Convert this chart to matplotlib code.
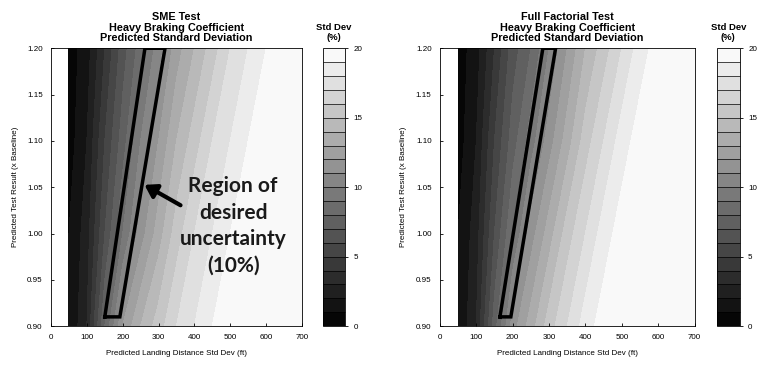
import numpy as np
import matplotlib
matplotlib.use("Agg")
import matplotlib.pyplot as plt

plt.rcParams['font.family'] = ['Liberation Sans', 'DejaVu Sans']

# grid
x_ft = [50, 100, 150, 200, 250, 300, 350, 400, 450, 500, 550, 600, 650, 700]
y_res = [0.90, 1.00, 1.10, 1.20]

sme_std = [
    [1.0, 3.0, 8.0, 12.0, 14.0, 15.5, 17.0, 18.0, 19.0, 19.5, 20.0, 20.0, 20.0, 20.0],
    [1.0, 2.5, 6.0, 9.0, 11.5, 13.5, 15.5, 17.0, 18.0, 19.0, 19.5, 20.0, 20.0, 20.0],
    [0.5, 2.0, 5.0, 7.5, 10.0, 12.0, 14.0, 15.5, 17.0, 18.0, 19.0, 19.5, 20.0, 20.0],
    [0.5, 1.5, 4.0, 6.5, 8.5, 10.5, 12.5, 14.0, 15.5, 17.0, 18.0, 19.0, 19.5, 20.0],
]
ff_std = [
    [1.0, 3.0, 7.5, 11.5, 13.5, 15.5, 17.0, 18.5, 19.5, 20.0, 20.0, 20.0, 20.0, 20.0],
    [1.0, 2.5, 6.0, 9.0, 11.5, 13.5, 15.5, 17.0, 18.5, 19.5, 20.0, 20.0, 20.0, 20.0],
    [0.5, 2.0, 5.0, 7.5, 9.5, 11.5, 13.5, 15.5, 17.0, 18.5, 19.5, 20.0, 20.0, 20.0],
    [0.5, 1.5, 4.0, 6.5, 8.0, 10.0, 12.0, 14.0, 15.5, 17.0, 18.5, 19.5, 20.0, 20.0],
]

# band of desired uncertainty (10%)
band_y = [0.91, 1.20]
sme_band_lo = [150, 262]
sme_band_hi = [192, 318]
ff_band_lo = [165, 283]
ff_band_hi = [195, 318]

titles = ["SME Test\nHeavy Braking Coefficient\nPredicted Standard Deviation",
          "Full Factorial Test\nHeavy Braking Coefficient\nPredicted Standard Deviation"]

fig = plt.figure(figsize=(7.65, 3.74), dpi=100)
ax_pos = [[0.0667, 0.128, 0.328, 0.743], [0.575, 0.128, 0.333, 0.743]]
cb_pos = [[0.422, 0.128, 0.029, 0.743], [0.937, 0.128, 0.030, 0.743]]
levels = np.arange(0, 21, 1)

panels = [(sme_std, sme_band_lo, sme_band_hi), (ff_std, ff_band_lo, ff_band_hi)]
for i, (field, lo, hi) in enumerate(panels):
    ax = fig.add_axes(ax_pos[i])
    cax = fig.add_axes(cb_pos[i])
    X, Y = np.meshgrid(x_ft, y_res)
    Z = np.clip(np.array(field), 0, 19.999)
    cs = ax.contourf(X, Y, Z, levels=levels, cmap='gray', vmin=0, vmax=20)

    # band outline
    bx = [lo[0], lo[1], hi[1], hi[0], lo[0]]
    by = [band_y[0], band_y[1], band_y[1], band_y[0], band_y[0]]
    ax.plot(bx, by, color='black', lw=2.5, solid_joinstyle='miter')

    ax.set_xlim(0, 700)
    ax.set_ylim(0.90, 1.20)
    ax.set_xticks(range(0, 701, 100))
    ax.set_yticks(np.arange(0.90, 1.201, 0.05))
    ax.yaxis.set_major_formatter(matplotlib.ticker.FormatStrFormatter('%.2f'))
    ax.tick_params(labelsize=5.8, length=2, width=0.6, direction='in', pad=6)
    for sp in ax.spines.values():
        sp.set_linewidth(0.6)
    ax.set_xlabel("Predicted Landing Distance Std Dev (ft)", fontsize=5.8, labelpad=6)
    ax.set_ylabel("Predicted Test Result (x Baseline)", fontsize=5.8, labelpad=6)
    ax.set_title(titles[i], fontsize=7.8, fontweight='bold', pad=5, linespacing=1.1)

    cb = fig.colorbar(cs, cax=cax, ticks=[0, 5, 10, 15, 20], drawedges=True)
    cb.outline.set_linewidth(0.6)
    cb.dividers.set_linewidth(0.5)
    cax.tick_params(labelsize=5.8, length=2, width=0.6, pad=4)
    cax.set_title("Std Dev\n(%)", fontsize=6.8, fontweight='bold', pad=6, linespacing=1.2)

    if i == 0:
        ax.annotate("", xy=(254, 1.054), xytext=(368, 1.029),
                    arrowprops=dict(arrowstyle='-|>,head_width=0.45,head_length=0.7',
                                    color='black', lw=3))
        ax.text(508, 1.008, "Region of\ndesired\nuncertainty\n(10%)", fontsize=15,
                family=['Lato', 'DejaVu Sans'], fontweight='bold', ha='center',
                va='center', linespacing=1.4, color='#1a1a1a')

fig.savefig("out.png", dpi=100)
